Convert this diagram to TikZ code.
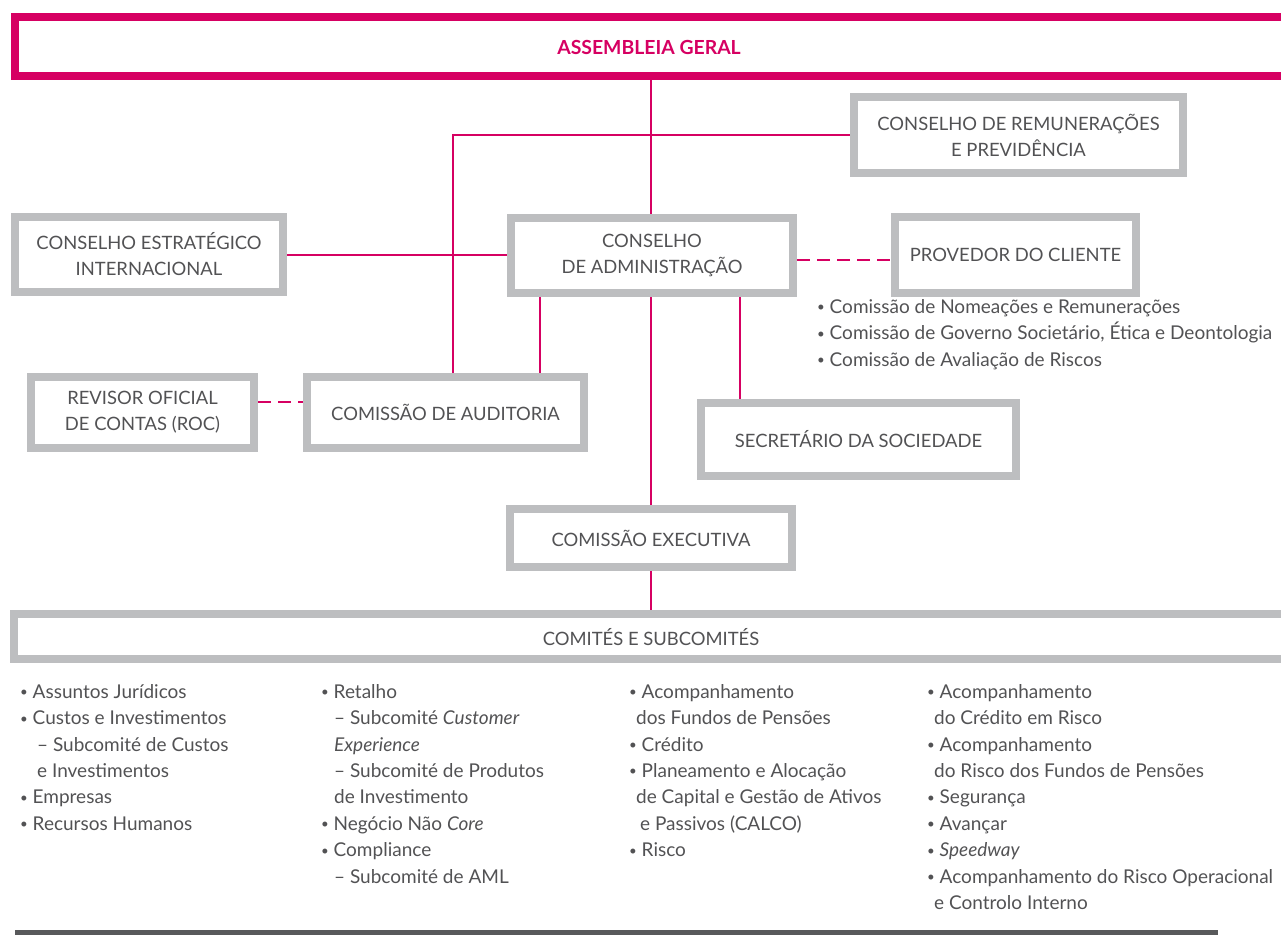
\documentclass[tikz,border=0pt]{standalone}
\usepackage{fontspec}
\setmainfont{Lato}
\usepackage{graphicx}
\definecolor{pk}{RGB}{214,0,98}
\definecolor{bx}{RGB}{189,190,192}
\definecolor{tx}{RGB}{82,82,84}
\definecolor{ln}{RGB}{88,89,91}
\newcommand{\bu}{\makebox[12.5pt][l]{\raisebox{1.5pt}{\scalebox{0.7}{•}}}}
\begin{document}
\begin{tikzpicture}[x=1pt,y=-1pt,
 box/.style={draw=bx, line width=8pt, inner sep=0pt, align=center, text=tx, font=\fontsize{18.4}{26}\selectfont},
 conn/.style={draw=pk, line width=2pt},
 dconn/.style={conn, dash pattern=on 13pt off 7pt},
 lst/.style={align=left, anchor=north west, inner sep=0pt, text=tx, font=\fontsize{19}{26.4}\selectfont},
 lbl/.style={inner sep=0pt, text=tx, font=\fontsize{18.4}{25}\selectfont}
]
\useasboundingbox (0,0) rectangle (1281,935);
\clip (0,0) rectangle (1281,935);

% boxes
\node[box, draw=pk, minimum width=1285pt, minimum height=59pt] (ag) at (657.5,46.5) {};
\node[lbl, text=pk, font=\bfseries\fontsize{19.4}{22}\selectfont] (agt) at (649,47) {ASSEMBLEIA GERAL};
\node[box, minimum width=329pt, minimum height=76pt] (rem) at (1018.5,135) {CONSELHO DE REMUNERAÇÕES\\E PREVIDÊNCIA};
\node[box, minimum width=268pt, minimum height=75pt] (ce) at (149,254.5) {CONSELHO ESTRATÉGICO\\INTERNACIONAL};
\node[box, minimum width=282pt, minimum height=75pt] (ca) at (652,255.5) {CONSELHO\\DE ADMINISTRAÇÃO};
\node[box, minimum width=241pt, minimum height=76pt] (prov) at (1015.5,255) {PROVEDOR DO CLIENTE};
\node[box, minimum width=223pt, minimum height=71pt] (roc) at (142.5,412.5) {REVISOR OFICIAL\\DE CONTAS (ROC)};
\node[box, minimum width=277pt, minimum height=71pt] (aud) at (445.5,412.5) {COMISSÃO DE AUDITORIA};
\node[box, minimum width=315pt, minimum height=73pt] (sec) at (858.5,439.5) {SECRETÁRIO DA SOCIEDADE};
\node[box, minimum width=282pt, minimum height=58pt] (exe) at (651,538) {COMISSÃO EXECUTIVA};
\node[box, minimum width=1286pt, minimum height=45pt] (com) at (657,636.5) {};
\node[lbl] (comt) at (651,637) {COMITÉS E SUBCOMITÉS};

% connectors
\coordinate (xa) at (453,0);
\coordinate (xb) at (540,0);
\coordinate (xc) at (740,0);
\coordinate (xm) at (651,0);
\coordinate (yd1) at (0,260);
\coordinate (yd2) at (0,402);
\draw[conn] (ag.south -| xm) -- (ca.north -| xm);
\draw[conn] (ca.south -| xm) -- (exe.north -| xm);
\draw[conn] (exe.south -| xm) -- (com.north -| xm);
\draw[conn] (aud.north -| xa) |- (rem.west);
\draw[conn] (ce.east) -- (ce.east -| ca.west);
\draw[conn] (ca.south -| xb) -- (aud.north -| xb);
\draw[conn] (ca.south -| xc) -- (sec.north -| xc);
\draw[dconn] (ca.east |- yd1) -- (prov.west |- yd1);
\draw[dconn] (roc.east |- yd2) -- (aud.west |- yd2);

% lists
\node[lst] (lprov) at (817,299) {\bu Comissão de Nomeações e Remunerações\\
\bu Comissão de Governo Societário, Ética e Deontologia\\
\bu Comissão de Avaliação de Riscos};

\node[lst] (l1) at (20,684) {\bu Assuntos Jurídicos\\
\bu Custos e Investimentos\\
\hspace*{17pt}– Subcomité de Custos\\
\hspace*{17pt}e Investimentos\\
\bu Empresas\\
\bu Recursos Humanos};

\node[lst] (l2) at (321,684) {\bu Retalho\\
\hspace*{13pt}– Subcomité \textit{Customer}\\
\hspace*{13pt}\textit{Experience}\\
\hspace*{13pt}– Subcomité de Produtos\\
\hspace*{13pt}de Investimento\\
\bu Negócio Não \textit{Core}\\
\bu Compliance\\
\hspace*{13pt}– Subcomité de AML};

\node[lst] (l3) at (629,684) {\bu Acompanhamento\\
\hspace*{7pt}dos Fundos de Pensões\\
\bu Crédito\\
\bu Planeamento e Alocação\\
\hspace*{7pt}de Capital e Gestão de Ativos\\
\hspace*{11pt}e Passivos (CALCO)\\
\bu Risco};

\node[lst] (l4) at (927,684) {\bu Acompanhamento\\
\hspace*{7pt}do Crédito em Risco\\
\bu Acompanhamento\\
\hspace*{7pt}do Risco dos Fundos de Pensões\\
\bu Segurança\\
\bu Avançar\\
\bu \textit{Speedway}\\
\bu Acompanhamento do Risco Operacional\\
\hspace*{7pt}e Controlo Interno};

\draw[ln, line width=5pt] (15,932) -- (1218,932);
\end{tikzpicture}
\end{document}
